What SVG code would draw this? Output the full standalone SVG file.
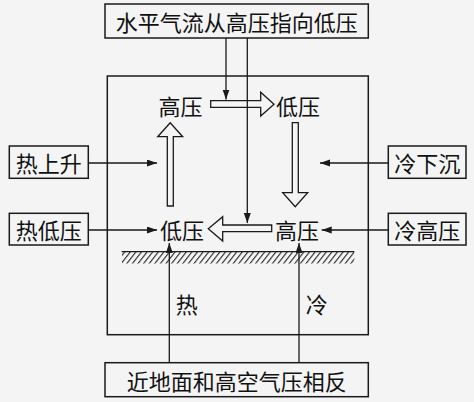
<svg xmlns="http://www.w3.org/2000/svg" width="474" height="402" viewBox="0 0 474 402">
<style>
.box{fill:none;stroke:#1a1a1a;stroke-width:1.5}
.ln{fill:none;stroke:#1a1a1a;stroke-width:1.3}
.ha{fill:none;stroke:#1a1a1a;stroke-width:1.3;stroke-linejoin:miter}
.t{font-family:"Noto Sans CJK SC","Noto Sans CJK JP",sans-serif;font-size:22px;fill:#111;text-anchor:middle;dominant-baseline:central}
</style>
<defs>
<marker id="ah" markerUnits="userSpaceOnUse" markerWidth="11" markerHeight="8" refX="10" refY="3.5" orient="auto">
<path d="M0,0 L10,3.5 L0,7 z" fill="#1a1a1a"/>
</marker>
<pattern id="hatch" patternUnits="userSpaceOnUse" width="5.6" height="30" patternTransform="translate(122,252) skewX(-38)">
<line x1="2.6" y1="-1" x2="2.6" y2="31" stroke="#1a1a1a" stroke-width="1.3"/>
</pattern>
</defs>
<rect x="0" y="0" width="474" height="402" fill="#f4f4f4"/>

<g id="frame">
<rect class="box" x="107.3" y="76" width="261" height="258.7"/>
</g>

<g id="ground">
<rect x="122" y="252" width="232.3" height="11.5" fill="url(#hatch)"/>
<line class="ln" x1="121.7" y1="251.7" x2="354.3" y2="251.7" stroke-width="1.5"/>
</g>

<g id="top-box">
<rect class="box" x="105" y="4" width="263.3" height="34"/>
<text class="t" x="236.7" y="21">水平气流从高压指向低压</text>
</g>
<g id="bottom-box">
<rect class="box" x="105" y="362.7" width="263.3" height="34"/>
<text class="t" x="236.7" y="380">近地面和高空气压相反</text>
</g>
<g id="rise-box">
<rect class="box" x="9.3" y="146" width="79" height="32.3"/>
<text class="t" x="48.8" y="162">热上升</text>
</g>
<g id="sink-box">
<rect class="box" x="388.3" y="146" width="77.7" height="32.3"/>
<text class="t" x="427.2" y="162">冷下沉</text>
</g>
<g id="hotlow-box">
<rect class="box" x="9.3" y="213.3" width="79" height="31.7"/>
<text class="t" x="48.8" y="229">热低压</text>
</g>
<g id="coldhigh-box">
<rect class="box" x="388.3" y="213.3" width="77.7" height="31.7"/>
<text class="t" x="427.2" y="229">冷高压</text>
</g>

<g id="labels">
<text class="t" x="180.5" y="104.5">高压</text>
<text class="t" x="298" y="104.5">低压</text>
<text class="t" x="182" y="229">低压</text>
<text class="t" x="297" y="229">高压</text>
<text class="t" x="186.7" y="303">热</text>
<text class="t" x="316.7" y="303">冷</text>
</g>

<g id="connectors">
<path class="ha" d="M210.7,100.7 H260.7 V92.3 L274,104.2 L260.7,116 V107.3 H210.7 Z"/>
<path class="ha" d="M167.3,206 V136.7 H157.7 L170.2,122.7 L182.7,136.7 H173.3 V206 Z"/>
<path class="ha" d="M292.3,122.7 V192.7 H282.7 L295.2,206.7 L307.7,192.7 H298.3 V122.7 Z"/>
<path class="ha" d="M271.7,225 H222.7 V216.7 L208.3,228.8 L222.7,241 V231.7 H271.7 Z"/>
<line class="ln" x1="226" y1="38" x2="226" y2="99.5" marker-end="url(#ah)"/>
<line class="ln" x1="247.3" y1="38" x2="247.3" y2="223" marker-end="url(#ah)"/>
<line class="ln" x1="88.3" y1="163" x2="157" y2="163" marker-end="url(#ah)"/>
<line class="ln" x1="388.3" y1="163" x2="320" y2="163" marker-end="url(#ah)"/>
<line class="ln" x1="88.3" y1="230" x2="157" y2="230" marker-end="url(#ah)"/>
<line class="ln" x1="388.3" y1="230" x2="321.7" y2="230" marker-end="url(#ah)"/>
<line class="ln" x1="169.3" y1="362.7" x2="169.3" y2="243" marker-end="url(#ah)"/>
<line class="ln" x1="299" y1="362.7" x2="299" y2="243" marker-end="url(#ah)"/>
</g>
</svg>
